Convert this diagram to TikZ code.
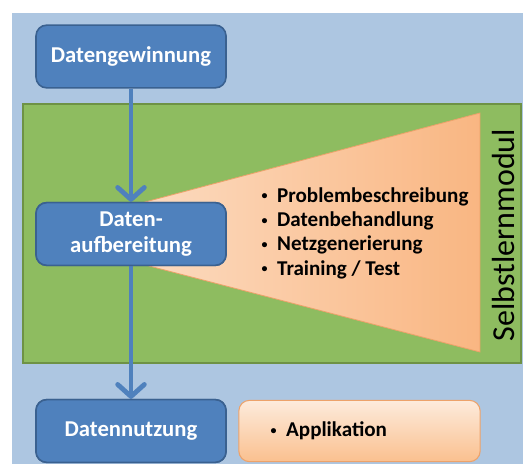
\documentclass[tikz,border=0pt]{standalone}
\usepackage{fontspec}
\setmainfont{Carlito}
\usetikzlibrary{arrows.meta,shadings}
\definecolor{panelblue}{HTML}{ADC6E1}
\definecolor{modgreen}{HTML}{8EBC60}
\definecolor{modgreenline}{HTML}{6E9245}
\definecolor{boxblue}{HTML}{4F81BD}
\definecolor{boxblueline}{HTML}{3A6190}
\definecolor{peachlight}{HTML}{FCDCC2}
\definecolor{peachdark}{HTML}{F9B682}
\definecolor{peachline}{HTML}{EDA26A}
\definecolor{applight}{HTML}{FDEBDC}
\definecolor{appdark}{HTML}{FAC08F}
\newcommand{\smallbullet}{\raisebox{0.22ex}{\fontsize{9}{9}\selectfont•}\hspace{0.45em}}
\tikzset{
  stagebox/.style={draw=boxblueline, line width=1.2pt, fill=boxblue, rounded corners=8pt,
    minimum width=142.5pt, minimum height=47pt, inner sep=0pt, align=center,
    text=white, font=\bfseries\fontsize{17}{19.5}\selectfont},
  flow/.style={boxblue, line width=3.6pt,
    -{Straight Barb[length=9pt, width=20pt, line width=3.6pt, round]}},
  itemtext/.style={font=\bfseries\fontsize{15.8}{18.3}\selectfont, align=left, text=black}
}
\begin{document}
\begin{tikzpicture}[x=0.75pt, y=-0.75pt]
\useasboundingbox (0,0) rectangle (523,464);
\fill[white] (0,0) rectangle (523,464);
% background panel
\fill[panelblue] (12,13) rectangle (523,464);
% self-learning module area
\draw[fill=modgreen, draw=modgreenline, line width=1pt] (23,104) rectangle (521,363);
% widening funnel
\shade[left color=peachlight, right color=peachdark, draw=peachline, line width=0.6pt]
  (130,206) -- (480,113) -- (480,352) -- (130,261) -- cycle;
\node[itemtext, anchor=west] (steps) at (257,233)
  {\smallbullet Problembeschreibung\\\smallbullet Datenbehandlung\\\smallbullet Netzgenerierung\\\smallbullet Training / Test};
\node[rotate=90, font=\fontsize{24}{27}\selectfont, text=black] (modlabel) at (503,235) {Selbstlernmodul};
% stages
\node[stagebox] (gewinnung) at (131,56.5) {Datengewinnung};
\node[stagebox] (aufbereitung) at (131,234) {Daten-\\aufbereitung};
\node[stagebox] (nutzung) at (131,431) {Datennutzung};
\node[draw=peachline, line width=0.8pt, rounded corners=8pt, top color=applight, bottom color=appdark,
  minimum width=181pt, minimum height=46pt, inner sep=0pt] (app) at (359.5,431) {};
\node[itemtext, anchor=west] (applabel) at (266,431) {\smallbullet Applikation};
% flow arrows
\draw[flow] (gewinnung.south) -- (aufbereitung.north);
\draw[flow] (aufbereitung.south) -- (nutzung.north);
\node[stagebox] at (aufbereitung) {Daten-\\aufbereitung};
\node[stagebox] at (nutzung) {Datennutzung};
\end{tikzpicture}
\end{document}
